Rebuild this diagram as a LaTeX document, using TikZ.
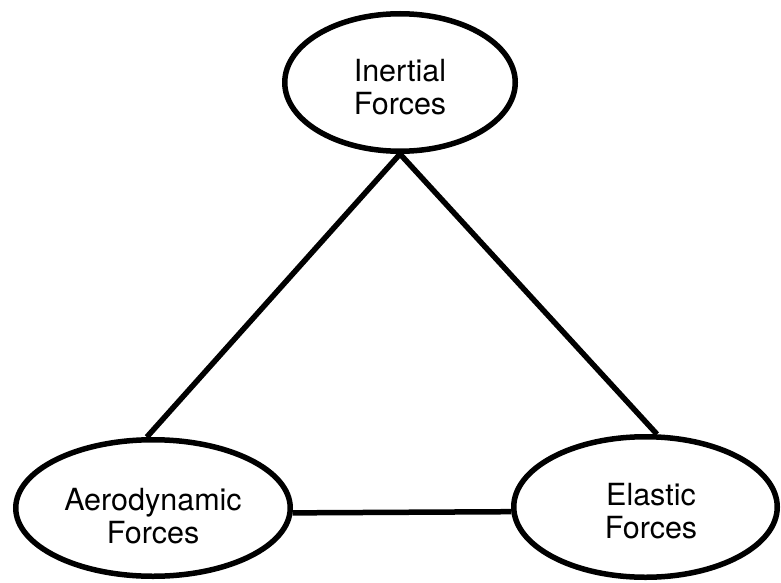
\documentclass[tikz,border=0pt]{standalone}
\usepackage{fontspec}
\setmainfont{TeX Gyre Heros}
\usetikzlibrary{shapes.geometric}
\begin{document}
\begin{tikzpicture}[x=1pt,y=-1pt,
  ellbox/.style={draw=black, line width=5.5pt, ellipse, inner sep=0pt},
  lbl/.style={align=center, inner sep=0pt, font=\fontsize{30.5}{33}\selectfont},
  conn/.style={draw=black, line width=5.5pt}]
\useasboundingbox (0,0) rectangle (781,583);
\node[ellbox, minimum width=230.5pt, minimum height=137.5pt] (I) at (400,82.5) {};
\node[ellbox, minimum width=274.5pt, minimum height=136.5pt] (A) at (153,508) {};
\node[ellbox, minimum width=263.5pt, minimum height=140.5pt] (E) at (645.5,507) {};
\node[lbl] (It) at (400,87.5) {Inertial\\Forces};
\node[lbl] (At) at (153,516.5) {Aerodynamic\\Forces};
\node[lbl] (Et) at (651,511.5) {Elastic\\Forces};
\draw[conn] (I.south) -- (A.95);
\draw[conn] (I.south) -- (E.81);
\draw[conn] (A.-2) -- (E.182);
\end{tikzpicture}
\end{document}
